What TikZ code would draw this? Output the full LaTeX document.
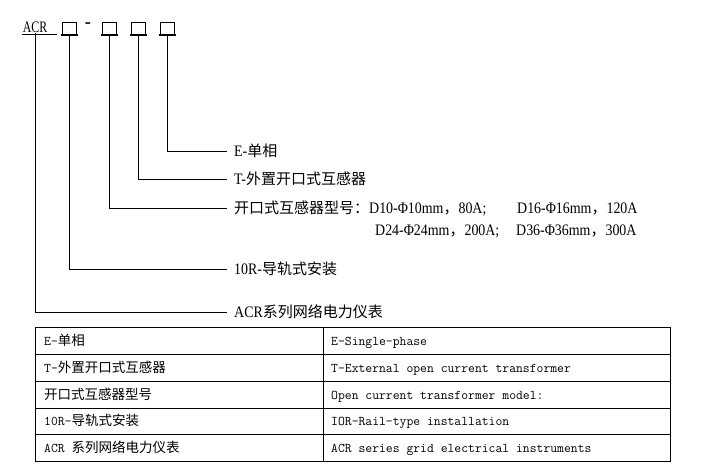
\documentclass[tikz,border=0pt]{standalone}
\usepackage{fontspec}
\setmainfont{Liberation Serif}
\newfontfamily\cjk{Noto Sans CJK SC}
\newfontfamily\narrowrm[FakeStretch=0.74]{Liberation Serif}
\newfontfamily\labelrm[FakeStretch=0.87]{Liberation Serif}
\newcommand\zh[1]{{\fontsize{15}{18}\selectfont\cjk #1}}
\newcommand\zt[1]{{\fontsize{13.5}{16}\selectfont\cjk #1}}
\begin{document}
\begin{tikzpicture}[x=1pt,y=-1pt,
  conn/.style={line width=0.8pt},
  codebox/.style={draw,line width=0.7pt,minimum width=14pt,minimum height=12pt,inner sep=0pt},
  lbl/.style={anchor=west,inner xsep=7pt,inner ysep=0pt,text height=12pt,text depth=1pt,font=\fontsize{16}{18}\selectfont\labelrm},
  lblx/.style={lbl,inner xsep=0pt},
  cell/.style={anchor=west,inner sep=0pt,text height=10pt,text depth=1pt,font=\fontsize{13.3}{16}\selectfont\ttfamily}]
\useasboundingbox (0,0) rectangle (707,473);
% code row
\node[anchor=base,inner sep=0pt,text depth=0pt,font=\fontsize{16}{18}\selectfont\narrowrm] (acr) at (35,33) {ACR};
\draw[line width=0.8pt] (22,34.5) -- (57,34.5);
\node[codebox] (b1) at (69.5,28.5) {};
\node[inner sep=0pt,font=\fontsize{21}{22}\selectfont\labelrm] (dash) at (88,25.5) {-};
\node[codebox] (b2) at (109.5,28.5) {};
\node[codebox] (b3) at (138.5,28.5) {};
\node[codebox] (b4) at (167.5,28.5) {};
\foreach \b in {b1,b2,b3,b4}
  \draw[line width=1.6pt] ([xshift=-1.5pt]\b.south west) -- ([xshift=1.5pt]\b.south east);
% labels
\node[lbl] (lE) at (227,151) {E-\zh{单相}};
\node[lbl] (lT) at (227,179) {T-\zh{外置开口式互感器}};
\node[lbl] (lD) at (227,208) {\zh{开口式互感器型号：}D10-Φ10mm\zh{，}80A;};
\node[lblx] (lD2) at (517,208) {D16-Φ16mm\zh{，}120A};
\node[lblx] (lD3) at (375,230) {D24-Φ24mm\zh{，}200A;};
\node[lblx] (lD4) at (516,230) {D36-Φ36mm\zh{，}300A};
\node[lbl] (lR) at (227,269) {10R-\zh{导轨式安装}};
\node[lbl] (lA) at (227,312) {ACR\zh{系列网络电力仪表}};
% connectors
\draw[conn] (b4.south) |- (lE.west);
\draw[conn] (b3.south) |- (lT.west);
\draw[conn] (b2.south) |- (lD.west);
\draw[conn] (b1.south) |- (lR.west);
\draw[conn] (acr.south) |- (lA.west);
% table
\draw[line width=0.8pt] (35.5,327) rectangle (670,461);
\foreach \yy in {354,381,408,434} \draw[line width=0.8pt] (35.5,\yy) -- (670,\yy);
\draw[line width=0.8pt] (323,327) -- (323,461);
\node[cell] (c11) at (44,340.5) {E-\zt{单相}};
\node[cell] (c21) at (44,367.5) {T-\zt{外置开口式互感器}};
\node[cell] (c31) at (44,394.5) {\zt{开口式互感器型号}};
\node[cell] (c41) at (44,421) {10R-\zt{导轨式安装}};
\node[cell] (c51) at (44,447.5) {ACR \zt{系列网络电力仪表}};
\node[cell] (c12) at (331,340.5) {E-Single-phase};
\node[cell] (c22) at (331,367.5) {T-External open current transformer};
\node[cell] (c32) at (331,394.5) {Open current transformer model:};
\node[cell] (c42) at (331,421) {IOR-Rail-type installation};
\node[cell] (c52) at (331,447.5) {ACR series grid electrical instruments};
\end{tikzpicture}
\end{document}
